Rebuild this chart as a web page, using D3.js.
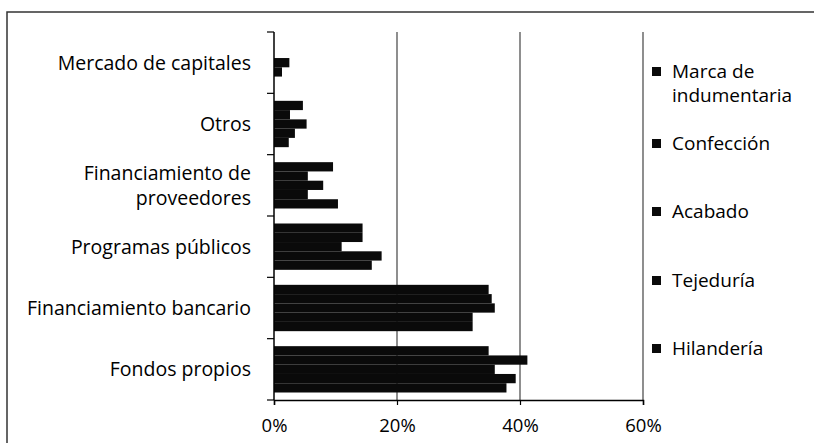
<!DOCTYPE html>
<html>
<head>
<meta charset="utf-8">
<script src="https://cdn.jsdelivr.net/npm/d3@7"></script>
<style>
  body { margin: 0; background: #fff; }
  svg { display: block; font-family: "Open Sans", Lato, sans-serif; }
</style>
</head>
<body>
<div id="chart"></div>
<script>
// categories top to bottom, series top to bottom inside each group
const categories = [
  ['Mercado de capitales'],
  ['Otros'],
  ['Financiamiento de', 'proveedores'],
  ['Programas públicos'],
  ['Financiamiento bancario'],
  ['Fondos propios']
];
const seriesNames = ['Marca de indumentaria', 'Confección', 'Acabado', 'Tejeduría', 'Hilandería'];

// values in %, same order as categories
const marca      = [0,   4.7, 9.6,  14.4, 34.9, 34.9];
const confeccion = [0,   2.6, 5.5,  14.4, 35.4, 41.2];
const acabado    = [2.5, 5.3, 8.0,  11.0, 35.9, 35.9];
const tejeduria  = [1.3, 3.4, 5.5,  17.5, 32.3, 39.3];
const hilanderia = [0,   2.4, 10.4, 15.9, 32.3, 37.8];
const xTicks = [0, 20, 40, 60];

const seriesValues = [marca, confeccion, acabado, tejeduria, hilanderia];

const W = 814, H = 443;
const plot = { left: 274, right: 643, top: 32, bottom: 400 };

const svg = d3.select('#chart').append('svg')
  .attr('width', W)
  .attr('height', H);

// outer frame of the pasted chart
svg.append('path')
  .attr('d', `M7,${H} V12 H${W}`)
  .attr('fill', 'none')
  .attr('stroke', '#333')
  .attr('stroke-width', 1.5);

const x = d3.scaleLinear().domain([0, 60]).range([plot.left, plot.right]);
const y = d3.scaleBand()
  .domain(categories.map((c, i) => i))
  .range([plot.top, plot.bottom])
  .padding(0);
const inset = 7.5;
const yInner = d3.scaleBand()
  .domain(seriesNames)
  .range([inset, y.bandwidth() - inset])
  .padding(0);

// gridlines
svg.append('g')
  .selectAll('line')
  .data(xTicks.filter(t => t > 0))
  .join('line')
  .attr('x1', d => x(d)).attr('x2', d => x(d))
  .attr('y1', plot.top).attr('y2', plot.bottom)
  .attr('stroke', '#444')
  .attr('stroke-width', 1.2);

// bars
const groups = svg.append('g')
  .selectAll('g')
  .data(categories.map((c, i) => i))
  .join('g')
  .attr('transform', i => `translate(0,${y(i)})`);

groups.selectAll('rect')
  .data(i => seriesNames.map((s, k) => ({ s, v: seriesValues[k][i] })))
  .join('rect')
  .attr('x', x(0))
  .attr('y', d => yInner(d.s))
  .attr('width', d => x(d.v) - x(0))
  .attr('height', yInner.bandwidth())
  .attr('fill', '#0a0a0a');

// y axis with ticks at band edges
const yAxisG = svg.append('g');
yAxisG.append('line')
  .attr('x1', plot.left).attr('x2', plot.left)
  .attr('y1', plot.top).attr('y2', plot.bottom)
  .attr('stroke', '#000').attr('stroke-width', 1.5);
yAxisG.selectAll('line.tick')
  .data(d3.range(categories.length + 1))
  .join('line')
  .attr('class', 'tick')
  .attr('x1', plot.left - 7).attr('x2', plot.left)
  .attr('y1', i => plot.top + i * y.step())
  .attr('y2', i => plot.top + i * y.step())
  .attr('stroke', '#000').attr('stroke-width', 1.2);

const catLabels = svg.append('g')
  .selectAll('text')
  .data(categories)
  .join('text')
  .attr('x', 251)
  .attr('text-anchor', 'end')
  .attr('font-size', 19.5)
  .attr('fill', '#000');
catLabels.each(function (lines, i) {
  const cy = y(i) + y.bandwidth() / 2;
  const lh = 25;
  const y0 = cy - (lines.length - 1) * lh / 2 + 7;
  d3.select(this).selectAll('tspan')
    .data(lines)
    .join('tspan')
    .attr('x', 251)
    .attr('y', (d, j) => y0 + j * lh)
    .text(d => d);
});

// x axis
const xAxis = d3.axisBottom(x)
  .tickValues(xTicks)
  .tickFormat(d => d + '%')
  .tickSize(5)
  .tickPadding(14);
const xAxisG = svg.append('g')
  .attr('transform', `translate(0,${plot.bottom})`)
  .call(xAxis);
xAxisG.select('.domain').attr('stroke', '#000').attr('stroke-width', 1.5);
xAxisG.selectAll('.tick line').attr('stroke', '#000').attr('stroke-width', 1.2);
xAxisG.selectAll('.tick text')
  .attr('font-family', '"Open Sans", Lato, sans-serif')
  .attr('font-size', 18.5)
  .attr('fill', '#000');

// legend
const legendItems = [
  { name: ['Marca de', 'indumentaria'], cy: 71 },
  { name: ['Confección'], cy: 143 },
  { name: ['Acabado'], cy: 211 },
  { name: ['Tejeduría'], cy: 280 },
  { name: ['Hilandería'], cy: 348 }
];
const legend = svg.append('g')
  .selectAll('g')
  .data(legendItems)
  .join('g')
  .attr('transform', d => `translate(652,${d.cy})`);
legend.append('rect')
  .attr('x', 0).attr('y', -4)
  .attr('width', 9).attr('height', 9)
  .attr('fill', '#0a0a0a');
legend.append('text')
  .attr('font-size', 19)
  .attr('fill', '#000')
  .selectAll('tspan')
  .data(d => d.name)
  .join('tspan')
  .attr('x', 20)
  .attr('y', (d, j) => 7 + j * 24)
  .text(d => d);
</script>
</body>
</html>
